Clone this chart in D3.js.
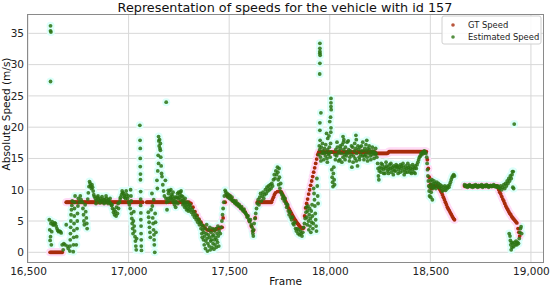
<!DOCTYPE html>
<html>
<head>
<meta charset="utf-8">
<script src="https://cdn.jsdelivr.net/npm/d3@7"></script>
<style>
  body { margin: 0; background: #fff; }
  text { font-family: "DejaVu Sans", sans-serif; }
</style>
</head>
<body>
<svg id="chart"></svg>
<script>
// ground truth speed, [frame, m/s]
const gtSpeed = [
  [16610,0],[16615,0],[16620,0],[16625,0],[16630,0],[16635,0],[16640,0],[16645,0],[16650,0],[16655,0],[16660,0],[16665,0],[16670,0],
  [16690,8],[16695,8],[16700,8],[16705,8],[16710,8],[16715,8],[16720,8],[16725,8],[16730,8],[16735,8],[16740,8],[16745,8],[16750,8],
  [16755,8],[16760,8],[16765,8],[16770,8],[16775,8],[16780,8],[16785,8],[16790,8],[16795,8],[16800,8],[16805,8],[16810,8],[16815,8],
  [16820,8],[16825,8],[16830,8],[16835,8],[16840,8],[16845,8],[16850,8],[16855,8],[16860,8],[16865,8],[16870,8],[16875,8],[16880,8],
  [16885,8],[16890,8],[16895,8],[16900,8],[16905,8],[16910,8],[16915,8],[16920,8],[16925,8],[16930,8],[16935,8],[16940,8],[16945,8],
  [16950,8],[16955,8],[16960,8],[16965,8],[16970,8],[16975,8],[16980,8],[16985,8],[16990,8],[16995,8],[17000,8],[17005,8],[17010,8],
  [17015,8],[17020,8],[17025,8],[17030,8],[17035,8],[17040,8],[17045,8],[17050,8],[17055,8],[17060,8],[17065,8],[17070,8],
  [17090,8],[17095,8],[17100,8],[17105,8],[17110,8],[17115,8],[17120,8],[17125,8],[17130,8],[17135,8],[17140,8],[17145,8],[17150,8],
  [17155,8],[17160,8],[17165,8],[17170,8],[17175,8],[17180,8],[17185,8],[17190,8],[17200,8],[17210,8],[17220,8],[17230,8],[17240,8],
  [17250,8],[17260,8],[17270,8],[17280,8],[17290,8],[17300,8],
  [17310,7.8],[17320,7.2],[17330,6.5],[17340,5.9],[17350,5.3],[17360,4.8],[17370,4.3],[17380,3.9],[17390,3.6],[17400,3.5],[17410,3.5],
  [17420,3.6],[17425,3.6],[17430,3.6],[17435,3.7],[17440,3.8],[17445,3.8],[17450,3.9],[17455,3.9],[17460,4.0],[17465,4.0],
  [17470,5.5],[17480,8.0],[17490,9.0],[17500,9.0],[17510,8.6],[17520,8.2],[17530,8.0],[17540,7.7],[17550,7.4],[17560,7.1],[17570,6.8],
  [17580,6.4],[17590,5.8],[17600,5.0],[17610,4.2],[17620,3.5],[17630,5.5],
  [17640,8],[17645,8],[17650,8],[17655,8],[17660,8],[17665,8],[17670,8],[17675,8],[17680,8],[17685,8],[17690,8],[17695,8],[17700,8],
  [17705,8],[17710,8],[17715,8.4],[17720,8.8],[17725,9.2],[17730,9.5],[17740,9.7],[17750,9.7],[17755,9.7],[17760,9.6],[17765,9.3],
  [17770,8.9],[17775,8.6],[17780,8.2],[17785,7.9],[17790,7.5],[17795,7.1],[17800,6.8],[17805,6.5],[17810,6.2],[17815,5.9],[17820,5.6],
  [17825,5.3],[17830,5.1],[17835,4.8],[17840,4.6],[17845,4.4],[17850,4.2],[17855,4.0],[17860,3.9],[17865,3.8],[17870,3.9],[17875,5.8],
  [17880,7.1],[17885,7.8],[17890,8.5],[17895,9.3],[17900,10.0],[17905,10.7],[17910,11.4],[17915,12.1],[17920,12.8],[17925,13.5],
  [17930,14.2],[17935,14.9],[17940,15.6],[17945,16.0],
  [17950,16],[17955,16],[17960,16],[17965,16],[17970,16],[17975,16],[17980,16],[17985,16],[17990,16],[17995,16],[18000,16],[18005,16],
  [18010,16],[18015,16],[18020,16],[18025,16],[18030,16],[18035,16],[18040,16],[18045,16],[18050,16],[18055,16],[18060,16],[18065,16],
  [18070,16],[18075,16],[18080,16],[18085,16],[18090,16],[18095,16],[18100,16],[18105,16],[18110,16],[18115,16],[18120,16],[18125,16],
  [18130,16],[18135,16],[18140,16],[18145,16],[18150,16],[18155,16],[18160,16],[18165,16],[18170,16],[18175,16],[18180,16],[18185,16],
  [18190,16],[18195,16],[18200,16],[18205,16],[18210,16],[18215,16],[18220,16],[18225,16],
  [18230,15.8],[18235,15.8],[18240,15.8],[18245,15.8],[18250,15.8],[18255,15.8],[18260,15.8],[18265,15.8],[18270,15.8],[18275,15.8],
  [18280,15.8],[18285,15.8],[18290,15.9],[18295,16.1],[18300,16.1],[18305,16.1],[18310,16.1],[18315,16.1],[18320,16.1],[18325,16.1],
  [18330,16.1],[18335,16.1],[18340,16.1],[18345,16.1],[18350,16.1],[18355,16.1],[18360,16.1],[18365,16.1],[18370,16.1],[18375,16.1],
  [18380,16.1],[18385,16.1],[18390,16.1],[18395,16.1],[18400,16.1],[18405,16.1],[18410,16.1],[18415,16.1],[18420,16.1],[18425,16.1],
  [18430,16.1],[18435,16.1],[18440,16.1],[18445,16.1],[18450,16.1],[18455,16.1],[18460,16.1],[18465,16.1],[18470,16.1],[18475,16.1],
  [18480,16.1],[18485,14.8],[18490,13.4],[18495,12.0],[18500,10.8],[18505,10.2],[18510,10.4],[18520,10.6],[18530,10.6],[18540,10.4],
  [18545,10.2],[18550,9.9],[18555,9.6],[18560,9.2],[18565,8.8],[18570,8.4],[18575,8.0],[18580,7.6],[18585,7.2],[18590,6.9],
  [18595,6.6],[18600,6.3],[18605,6.0],[18610,5.7],[18615,5.4],[18620,5.2],
  [18670,10.6],[18680,10.6],[18690,10.6],[18700,10.6],[18710,10.6],[18720,10.6],[18730,10.6],[18740,10.6],[18750,10.6],[18760,10.6],
  [18770,10.6],[18780,10.6],[18790,10.6],[18800,10.6],[18810,10.6],[18820,10.6],[18830,10.6],[18835,10.4],[18840,10.0],[18845,9.6],
  [18850,9.3],[18855,8.9],[18860,8.5],[18865,8.2],[18870,7.8],[18875,7.4],[18880,7.1],[18885,6.8],[18890,6.5],[18895,6.2],[18900,6.0],
  [18905,5.7],[18910,5.5],[18915,5.3],[18920,5.1],[18925,4.9],[18930,4.7],[18936,3.8],[18940,3.2],[18944,2.6]
];

// estimated speed, [frame, m/s]
const estSpeed = [
  [16612,36.2],[16612,35.4],[16614,35.2],[16612,27.3],
  [16606,5.2],[16608,3.6],[16610,1.9],[16612,2.5],[16614,4.6],[16616,1.2],[16618,3.3],[16620,4.9],[16624,4.4],[16628,4.4],
  [16632,4.7],[16636,4.6],[16640,4.2],[16644,3.8],[16648,3.5],[16652,3.3],[16656,3.4],[16661,3.3],[16665,3.1],[16670,1.2],
  [16675,0.4],[16678,1.4],[16684,1.2],[16690,4.4],[16695,1.0],[16700,0.6],
  [16708,0.2],[16709,1.0],[16710,2.0],[16711,3.0],[16712,4.0],[16713,5.0],[16714,6.0],[16716,6.8],[16718,7.5],[16720,8.2],
  [16725,0.1],[16726,1.2],[16727,2.4],[16728,3.5],[16729,4.6],[16730,5.8],[16731,7.0],[16732,8.0],[16734,9.0],
  [16740,1.2],[16742,2.5],[16744,3.8],[16745,5.0],[16746,6.2],[16748,7.4],[16750,8.6],[16755,8.0],[16760,9.0],[16764,8.4],
  [16770,8.0],[16773,7.0],[16776,6.0],[16778,5.0],[16780,4.4],[16784,7.6],[16787,6.5],[16790,5.5],[16792,4.6],[16794,3.8],[16797,8.5],
  [16800,9.5],[16803,10.5],[16806,11.3],[16809,11.0],[16812,10.6],[16815,10.2],[16818,10.8],[16821,10.4],[16824,9.8],[16827,9.2],[16830,8.9],
  [16835,8.6],[16840,8.3],[16845,8.8],[16850,8.5],[16855,8.2],[16860,8.6],[16865,8.3],[16870,8.1],[16875,8.5],[16880,8.4],[16885,8.0],
  [16890,8.6],[16895,8.2],[16900,8.4],[16905,8.0],[16910,7.8],[16915,7.5],[16920,7.0],[16925,6.4],[16930,6.0],[16935,6.5],[16940,7.2],
  [16945,6.2],[16950,7.0],[16955,8.0],[16960,8.8],[16965,9.2],[16970,9.5],[16975,9.4],[16980,9.0],[16985,8.6],[16990,9.2],[16995,8.6],[17000,8.0],
  [16838,7.8],[16848,9.0],[16858,7.9],[16868,8.9],[16878,7.8],[16888,9.0],[16898,7.8],[16908,8.6],[16918,7.6],[16928,6.8],[16938,5.8],
  [16948,7.8],[16958,8.5],[16968,9.8],[16978,8.8],[16988,9.8],[16998,9.0],
  [17004,7.6],[17008,7.0],[17010,10.0],[17012,9.0],[17013,8.2],[17014,6.2],[17016,5.4],[17018,4.6],[17020,3.8],[17022,3.0],[17024,5.0],
  [17026,6.5],[17028,4.2],[17030,3.4],[17032,2.5],[17034,1.8],[17036,1.0],[17038,0.4],[17040,2.2],
  [17056,20.3],[17057,17.9],[17058,16.6],[17058,15.0],[17058,13.7],[17059,12.5],[17059,11.6],[17060,9.7],[17060,8.5],[17060,7.5],
  [17061,6.3],[17061,5.2],[17062,4.2],[17062,3.0],[17063,2.0],[17063,1.0],[17064,0.3],
  [17098,6.4],[17100,5.6],[17102,4.8],[17104,4.0],[17106,3.2],[17108,2.4],[17112,6.8],[17116,9.4],[17118,7.4],[17120,5.5],[17122,4.6],
  [17124,3.6],[17125,8.4],[17126,2.8],[17127,2.0],[17128,1.2],[17130,0.0],[17132,6.2],[17134,4.8],[17136,3.2],[17141,11.5],[17143,10.2],
  [17145,13.0],[17147,15.5],[17149,18.5],[17150,17.8],[17152,17.0],[17154,18.0],[17156,16.6],[17158,17.4],[17158,16.3],[17149,14.2],
  [17160,15.2],[17162,13.8],[17164,12.6],[17166,12.1],[17170,10.8],[17174,9.8],[17178,9.0],[17183,11.5],[17187,24.0],[17186,8.6],
  [17191,6.8],[17190,8.0],
  [17195,8.6],[17198,9.4],[17200,8.2],[17204,9.8],[17207,8.8],[17210,10.0],[17213,9.2],[17216,8.4],[17219,9.0],[17222,8.0],[17225,8.6],
  [17228,7.6],[17231,8.2],[17234,7.2],[17237,8.0],[17240,8.8],[17243,9.4],[17246,8.6],[17249,9.6],[17252,8.8],[17255,9.2],[17258,8.4],
  [17261,9.8],[17264,9.0],[17267,8.2],[17270,7.6],[17273,8.4],[17276,7.8],[17279,7.2],[17282,8.0],[17285,7.4],[17288,6.8],[17291,7.6],
  [17294,7.0],[17297,6.6],[17300,7.4],
  [17197,9.9],[17209,8.6],[17221,9.6],[17233,8.8],[17245,7.8],[17257,9.6],[17269,8.9],[17281,8.6],[17293,8.0],[17305,7.6],
  [17304,6.8],[17308,7.2],[17312,6.4],[17316,6.8],[17320,6.0],[17324,6.5],[17328,5.6],[17332,6.0],[17336,5.2],[17340,5.6],[17344,4.8],
  [17348,5.2],[17352,4.4],[17356,4.8],[17360,3.8],[17362,4.4],[17364,3.0],[17366,2.4],[17368,3.6],[17370,4.2],[17372,2.0],[17374,3.2],
  [17376,1.2],[17378,2.6],[17380,3.8],[17382,0.6],[17384,1.8],[17386,3.0],[17388,4.4],[17390,2.2],[17392,0.2],[17394,1.4],[17396,2.8],
  [17398,3.6],[17400,1.0],[17402,2.4],[17404,4.0],[17406,0.4],[17408,1.8],[17410,3.2],[17412,2.0],[17414,0.8],[17416,2.6],[17418,3.8],
  [17420,1.4],[17422,2.8],[17424,0.5],[17426,2.0],[17428,3.4],[17430,1.2],[17432,2.4],[17434,3.8],[17436,0.8],[17438,2.0],[17440,3.0],
  [17442,1.6],[17444,4.2],[17446,2.6],[17448,1.0],[17450,3.4],
  [17456,3.0],[17460,4.0],[17464,5.0],[17467,6.0],[17470,7.0],[17473,8.0],[17476,9.0],[17480,9.9],[17483,9.6],[17486,9.2],[17490,9.4],
  [17494,8.8],[17498,9.2],[17502,8.6],[17506,9.0],[17510,8.4],[17514,8.8],[17518,8.2],[17522,8.3],
  [17526,8.0],[17530,7.8],[17534,8.2],[17538,7.6],[17542,7.8],[17546,7.4],[17550,7.6],[17554,7.2],[17558,7.0],[17562,7.3],[17566,6.8],
  [17570,6.6],[17574,6.9],[17578,6.4],[17582,6.2],[17586,6.0],[17590,5.6],[17594,5.8],[17598,5.2],[17602,4.9],[17606,5.2],[17610,4.4],
  [17614,4.0],[17616,3.4],[17618,3.0],[17620,2.6],[17622,3.6],[17624,4.6],
  [17628,5.4],[17632,6.2],[17636,7.0],[17640,7.8],[17644,8.4],[17648,7.6],[17652,8.8],[17656,9.4],[17660,8.2],[17664,9.0],[17668,9.6],
  [17672,8.6],[17676,9.2],[17680,10.0],[17684,9.4],[17688,10.4],[17692,9.8],[17696,10.6],[17700,10.0],[17704,10.8],[17708,10.2],
  [17712,11.0],[17716,10.6],[17720,11.6],[17724,12.4],[17728,11.8],[17732,13.0],[17736,12.4],[17740,13.6],[17742,12.8],[17744,11.6],
  [17746,10.8],[17748,13.4],[17750,12.0],[17752,10.2],[17756,11.0],[17758,9.6],
  [17762,9.2],[17766,8.6],[17770,9.0],[17774,8.2],[17778,8.6],[17782,7.8],[17786,7.2],[17790,7.6],[17794,6.6],[17798,6.0],[17802,6.4],
  [17806,5.6],[17810,5.2],[17814,5.6],[17818,4.6],[17822,4.4],[17826,4.8],[17830,3.8],[17834,3.4],[17838,3.8],[17842,3.0],[17846,3.6],
  [17850,2.8],[17854,3.4],[17858,3.0],[17862,2.6],[17866,3.2],[17870,4.0],
  [17874,4.6],[17878,5.4],[17882,6.4],[17884,7.2],[17886,5.6],[17888,4.4],[17890,6.6],[17892,7.4],[17894,5.0],[17896,3.6],[17898,6.0],
  [17900,7.0],[17902,4.2],[17904,5.4],[17906,3.2],[17908,6.6],[17910,4.8],[17912,7.6],[17914,5.8],[17916,3.8],[17918,4.6],[17920,10.2],
  [17922,9.4],[17924,8.4],[17926,7.4],[17928,6.2],[17930,5.2],[17932,4.2],[17934,3.4],[17936,11.8],[17938,10.6],[17940,9.0],[17942,7.8],
  [17951,33.4],[17951,32.6],[17951,32.1],[17951,31.8],[17952,31.5],[17951,30.2],[17950,28.5],[17956,22.3],[17951,20.7],[17951,19.5],
  [17952,17.9],[18006,24.6],[18006,23.9],[18006,23.3],[18007,22.8],[18004,21.6],[18000,20.9],[18006,19.9],[18005,19.2],
  [17946,15.6],[17950,16.4],[17954,15.2],[17958,16.8],[17962,15.8],[17966,16.2],[17970,14.8],[17974,16.6],[17978,15.4],[17982,16.0],
  [17986,15.0],[17990,16.4],[17994,15.6],[17998,16.8],[18002,15.2],[18006,16.0],[18010,13.2],[18012,12.0],[18014,11.2],[18016,10.5],
  [18018,12.6],[18020,13.6],[18022,11.6],[18024,10.8],[18026,15.6],[18030,16.4],[18034,15.4],[18038,16.8],[18042,15.8],[18046,16.2],
  [18050,14.8],[18054,16.6],[18058,15.8],[18062,17.2],[18066,15.2],[18070,16.4],[18074,15.6],[18078,16.8],[18082,15.4],[18086,17.6],
  [18090,15.8],[18094,16.4],[18098,14.6],[18102,16.2],[18106,15.6],[18110,13.6],[18114,16.8],[18118,15.4],[18122,16.2],[18126,15.0],
  [18130,16.6],[18134,15.8],[18138,13.8],[18142,16.4],[18146,15.2],[18150,16.8],[18154,15.6],[18158,17.0],[18162,15.4],[18166,16.2],
  [18170,14.8],[18174,16.6],[18178,15.6],[18182,16.2],[18186,15.2],[18190,16.6],[18194,15.8],[18198,16.4],[18202,15.4],[18206,16.0],
  [18210,15.6],[18214,16.2],[18218,15.8],[18222,16.0],[18226,15.6],[18230,15.8],
  [17948,17.0],[17956,14.6],[17964,17.4],[17972,15.8],[17980,17.2],[17988,14.4],[17996,15.8],[18004,17.4],[18028,14.8],[18036,17.6],
  [18044,14.6],[18052,17.0],[18060,14.4],[18068,17.6],[18076,14.8],[18084,16.0],[18092,17.8],[18100,15.2],[18108,17.0],[18116,14.4],
  [18124,17.4],[18132,14.6],[18140,17.0],[18148,14.8],[18156,16.2],[18164,17.6],[18172,15.4],[18180,17.2],[18188,14.6],[18196,17.0],
  [18204,14.8],[18212,16.8],[18220,15.0],[18228,16.6],
  [17984,19.0],[17990,18.2],[17996,18.6],[18066,18.5],[18070,18.0],[18130,18.7],[18132,18.0],[18184,17.9],
  [18234,15.2],[18238,14.2],[18240,13.4],[18242,12.2],[18244,11.6],[18246,13.0],[18250,13.6],[18254,12.8],[18258,13.4],[18262,14.0],
  [18266,13.2],[18270,13.6],[18274,12.6],[18278,13.4],[18282,13.8],[18286,13.0],[18290,13.6],[18294,13.2],[18298,14.0],[18302,13.4],
  [18306,12.8],[18310,13.6],[18314,13.2],[18318,13.8],[18322,13.0],[18326,13.6],[18330,14.0],[18334,13.6],[18338,13.8],[18342,13.2],
  [18346,13.6],[18350,12.8],[18354,13.4],[18358,13.8],[18362,13.0],[18366,13.6],[18370,12.4],[18374,13.2],[18378,13.8],[18382,13.4],
  [18386,12.8],[18390,13.6],[18394,13.2],[18398,13.8],[18402,13.4],[18406,12.6],[18410,13.2],[18414,13.6],[18418,12.8],[18422,13.4],
  [18426,13.8],[18430,13.4],[18434,14.0],[18438,14.4],[18442,14.8],[18446,15.2],[18450,15.4],[18454,15.8],[18458,15.6],[18462,16.0],
  [18466,15.8],[18470,16.2],[18474,16.0],[18478,15.8],
  [18256,14.2],[18268,12.6],[18280,14.4],[18292,12.6],[18304,14.2],[18316,12.4],[18328,13.0],[18340,12.6],[18352,14.0],[18364,14.2],
  [18376,12.8],[18388,14.2],[18400,12.8],[18412,14.0],[18424,12.6],
  [18482,15.2],[18484,14.2],[18486,13.2],[18488,12.2],[18490,11.4],[18492,10.6],[18494,9.8],[18496,9.0],[18498,10.4],[18500,11.4],
  [18502,8.8],[18504,9.6],[18506,10.8],[18508,11.6],[18510,8.4],[18512,10.2],[18514,11.0],[18516,10.6],[18518,11.4],[18520,10.4],
  [18524,11.0],[18528,10.2],[18532,11.2],[18536,10.6],[18540,11.0],[18544,10.4],[18548,10.8],[18552,10.2],[18556,10.6],[18560,9.8],
  [18564,10.4],[18568,10.0],[18572,10.6],[18576,9.9],[18580,10.4],[18584,10.2],[18588,10.6],[18592,10.4],[18596,10.8],[18600,11.2],
  [18604,11.6],[18608,12.0],[18612,12.2],[18616,12.4],[18620,12.2],
  [18670,10.8],[18675,10.5],[18680,10.7],[18685,10.4],[18690,10.6],[18695,10.8],[18700,10.5],[18705,10.6],[18710,10.4],[18715,10.7],
  [18720,10.5],[18725,10.8],[18730,10.6],[18735,10.4],[18740,10.7],[18745,10.5],[18750,10.6],[18755,10.8],[18760,10.4],[18765,10.6],
  [18770,10.7],[18775,10.5],[18780,10.8],[18785,10.6],[18790,10.4],[18795,10.6],[18800,10.7],[18805,10.5],[18810,10.6],[18815,10.8],
  [18820,10.5],[18825,10.6],[18830,10.4],[18835,10.6],
  [18840,10.4],[18845,10.2],[18850,10.6],[18855,10.0],[18860,10.4],[18865,10.8],[18870,10.2],[18874,11.0],[18878,10.6],[18882,11.4],
  [18886,11.0],[18890,11.8],[18894,11.4],[18898,12.2],[18902,11.8],[18906,12.4],[18908,12.9],[18912,12.9],[18914,10.2],[18910,10.4],
  [18917,20.5],
  [18892,3.0],[18896,2.6],[18898,1.9],[18900,1.2],[18902,0.4],[18904,1.6],[18906,0.8],[18910,1.4],[18914,0.9],[18918,1.6],[18922,1.2],
  [18926,1.8],[18930,1.2],[18934,1.6],[18938,1.4],[18942,2.2],[18945,3.2],[18948,3.8],[18951,4.1],[18954,3.0]
];

const xTicks = [16500, 17000, 17500, 18000, 18500, 19000];
const yTicks = [0, 5, 10, 15, 20, 25, 30, 35];
const seriesNames = ["GT Speed", "Estimated Speed"];

const width = 550, height = 287;
const margin = { top: 14, right: 6, bottom: 24, left: 27 };

const colors = { gt: "#a82c0c", est: "#2b7312" };
const halos = { gt: "#ffdcf6", est: "#dcfffa" };

const svg = d3.select("#chart").attr("width", width).attr("height", height);

const x = d3.scaleLinear().domain([16495, 19065]).range([margin.left, width - margin.right]);
const y = d3.scaleLinear().domain([-1.71, 38.09]).range([height - margin.bottom, margin.top]);

// grid
svg.append("g")
  .selectAll("line")
  .data(xTicks)
  .join("line")
    .attr("x1", d => x(d)).attr("x2", d => x(d))
    .attr("y1", margin.top).attr("y2", height - margin.bottom)
    .attr("stroke", "#d8d8d8").attr("stroke-width", 1);
svg.append("g")
  .selectAll("line")
  .data(yTicks)
  .join("line")
    .attr("x1", margin.left).attr("x2", width - margin.right)
    .attr("y1", d => y(d)).attr("y2", d => y(d))
    .attr("stroke", "#d8d8d8").attr("stroke-width", 1);

svg.append("clipPath").attr("id", "plot-clip")
  .append("rect")
    .attr("x", margin.left).attr("y", margin.top)
    .attr("width", width - margin.left - margin.right)
    .attr("height", height - margin.top - margin.bottom);

const plot = svg.append("g").attr("clip-path", "url(#plot-clip)");

// soft halos behind the points
plot.append("g")
  .selectAll("circle")
  .data(estSpeed)
  .join("circle")
    .attr("cx", d => x(d[0])).attr("cy", d => y(d[1]))
    .attr("r", 4).attr("fill", halos.est);
plot.append("g")
  .selectAll("circle")
  .data(gtSpeed)
  .join("circle")
    .attr("cx", d => x(d[0])).attr("cy", d => y(d[1]))
    .attr("r", 4).attr("fill", halos.gt);

plot.append("g")
  .attr("fill", colors.gt)
  .selectAll("circle")
  .data(gtSpeed)
  .join("circle")
    .attr("cx", d => x(d[0])).attr("cy", d => y(d[1]))
    .attr("r", 1.9);

plot.append("g")
  .attr("fill", colors.est)
  .attr("fill-opacity", 0.85)
  .selectAll("circle")
  .data(estSpeed)
  .join("circle")
    .attr("cx", d => x(d[0])).attr("cy", d => y(d[1]))
    .attr("r", 1.9);

// axes
const xAxis = svg.append("g")
  .attr("transform", `translate(0,${height - margin.bottom})`)
  .call(d3.axisBottom(x).tickValues(xTicks).tickFormat(d3.format(",")).tickSize(0).tickPadding(5));
const yAxis = svg.append("g")
  .attr("transform", `translate(${margin.left},0)`)
  .call(d3.axisLeft(y).tickValues(yTicks).tickSize(0).tickPadding(3));
[xAxis, yAxis].forEach(g => {
  g.select(".domain").remove();
  g.selectAll("text").attr("font-size", 10.5).attr("fill", "#222").attr("font-family", "DejaVu Sans, sans-serif");
});

svg.append("rect")
  .attr("x", margin.left + 0.5).attr("y", margin.top + 0.5)
  .attr("width", width - margin.left - margin.right - 1)
  .attr("height", height - margin.top - margin.bottom - 1)
  .attr("fill", "none").attr("stroke", "#8a8a8a");

// labels
svg.append("text")
  .attr("x", 285).attr("y", 11.5)
  .attr("text-anchor", "middle").attr("font-size", 12.8).attr("fill", "#111")
  .text("Representation of speeds for the vehicle with id 157");
svg.append("text")
  .attr("x", (margin.left + width - margin.right) / 2).attr("y", 285)
  .attr("text-anchor", "middle").attr("font-size", 10.5).attr("fill", "#111")
  .text("Frame");
svg.append("text")
  .attr("transform", "translate(10,114) rotate(-90)")
  .attr("text-anchor", "middle").attr("font-size", 10.5).attr("fill", "#111")
  .text("Absolute Speed (m/s)");

// legend
const legend = svg.append("g").attr("transform", "translate(442,16)");
legend.append("rect")
  .attr("width", 99).attr("height", 28).attr("rx", 2)
  .attr("fill", "#fff").attr("fill-opacity", 0.85)
  .attr("stroke", "#d0d0d0");
const rows = legend.selectAll("g.row")
  .data(seriesNames)
  .join("g")
    .attr("class", "row")
    .attr("transform", (d, i) => `translate(0,${9 + i * 12})`);
rows.append("circle")
  .attr("cx", 11).attr("r", 1.8)
  .attr("fill", (d, i) => i === 0 ? colors.gt : colors.est)
  .attr("fill-opacity", 0.8);
rows.append("text")
  .attr("x", 26).attr("y", 3.2)
  .attr("font-size", 8.4).attr("fill", "#222")
  .text(d => d);
</script>
</body>
</html>
